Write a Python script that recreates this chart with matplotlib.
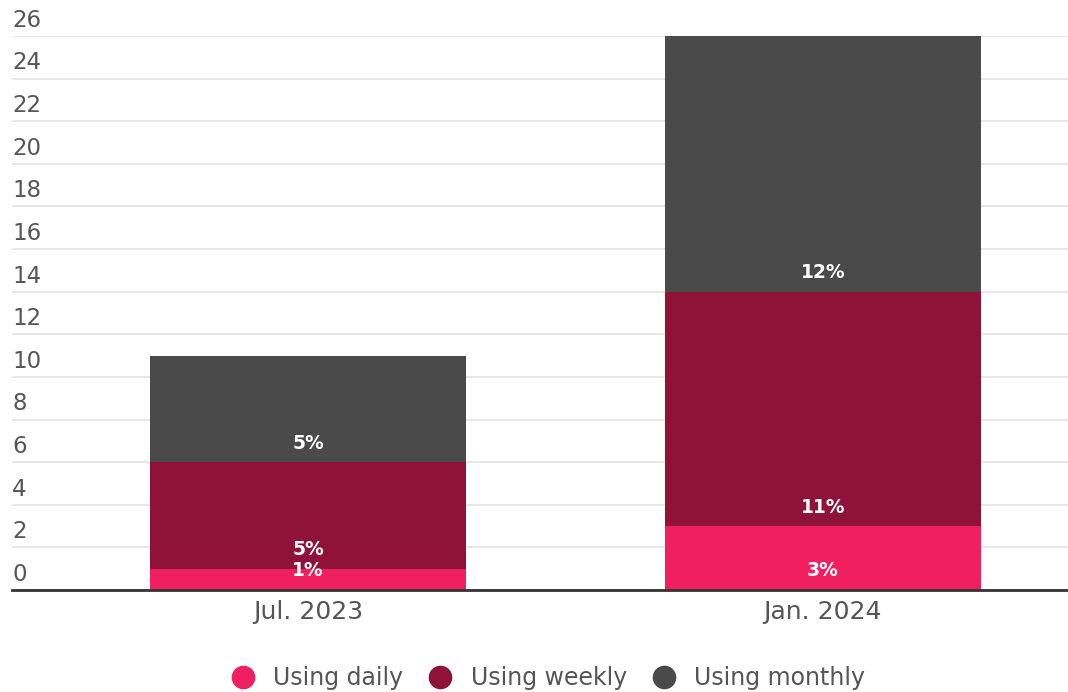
import matplotlib
matplotlib.use("Agg")
import matplotlib.pyplot as plt
from matplotlib.lines import Line2D
from matplotlib.transforms import blended_transform_factory

categories = ["Jul. 2023", "Jan. 2024"]
series_names = ["Using daily", "Using weekly", "Using monthly"]
daily = [1, 3]
weekly = [5, 11]
monthly = [5, 12]
colors = ["#EF1F60", "#8F1239", "#4A4A4A"]
yticks = list(range(0, 27, 2))

plt.rcParams["font.family"] = ["DejaVu Sans"]

fig = plt.figure(figsize=(10.68, 6.92), dpi=100)
ax = fig.add_axes([12/1068, 1-590/692, 1-12/1068, (590-36)/692])

x = list(range(len(categories)))
bottoms = [0]*len(categories)
for name, vals, c in zip(series_names, [daily, weekly, monthly], colors):
    ax.bar(x, vals, bottom=bottoms, width=0.614, color=c, zorder=3, label=name)
    for xi, b, v in zip(x, bottoms, vals):
        ax.annotate(f"{v}%", (xi, b), xytext=(0, 13.7), textcoords="offset points",
                    ha="center", va="center", color="white", fontsize=13.5,
                    fontweight="bold", zorder=4)
    bottoms = [b+v for b, v in zip(bottoms, vals)]

ax.set_xlim(-0.575, 1.476)
ax.set_ylim(0, 26)
ax.set_yticks(yticks)
ax.set_yticklabels([])
ax.tick_params(axis="y", length=0)
ax.grid(axis="y", color="#e3e3e3", linewidth=1.2, zorder=0)
for s in ["top", "right", "left"]:
    ax.spines[s].set_visible(False)
ax.spines["bottom"].set_color("#333333")
ax.spines["bottom"].set_linewidth(2)
ax.spines["bottom"].set_zorder(5)

trans = blended_transform_factory(ax.transAxes, ax.transData)
for t in yticks:
    ax.annotate(str(t), (0, t), xycoords=trans, xytext=(0, 3), textcoords="offset points",
                ha="left", va="bottom", fontsize=16.5, color="#555555", annotation_clip=False)

ax.set_xticks(x)
ax.set_xticklabels(categories, fontsize=18, color="#555555")
ax.tick_params(axis="x", length=0, pad=7)

handles = [Line2D([0], [0], marker="o", linestyle="", markersize=16,
                  markerfacecolor=c, markeredgecolor=c) for c in colors]
fig.legend(handles, series_names, loc="center", bbox_to_anchor=(547/1068, 1-678/692),
           ncol=3, frameon=False, fontsize=17, labelcolor="#555555",
           handletextpad=0.7, columnspacing=0.95, handlelength=1.2)

fig.savefig("out.png", dpi=100)
